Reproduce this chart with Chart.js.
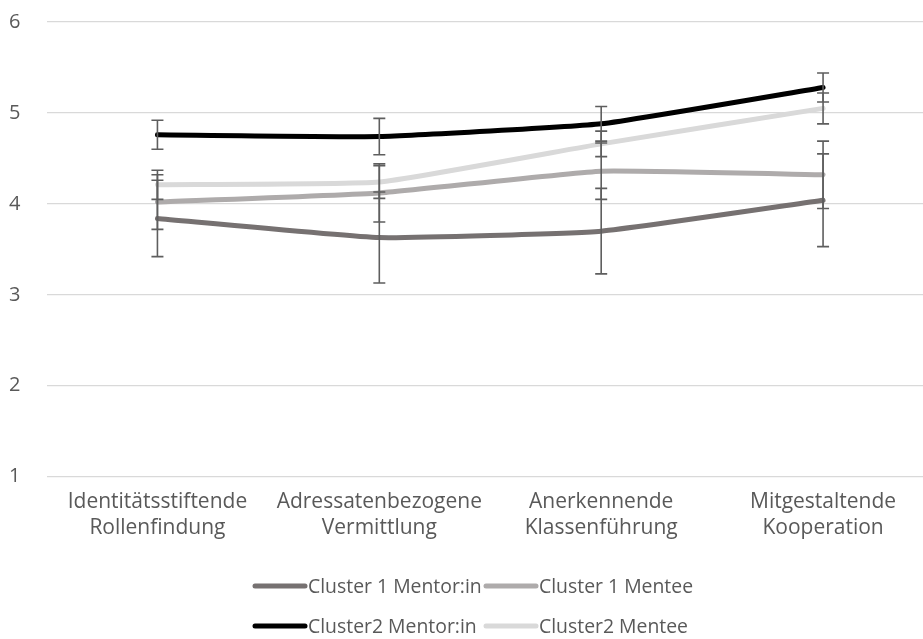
<!DOCTYPE html>
<html><head><meta charset="utf-8">
<script src="https://cdn.jsdelivr.net/npm/chart.js@4"></script>
<style>
html,body{margin:0;padding:0;background:#fff;overflow:hidden;}
#wrap{position:relative;width:934px;height:639px;}
</style></head><body>
<div id="wrap"><canvas id="c"></canvas></div>
<script>
const categories = [
  ['Identitätsstiftende','Rollenfindung'],
  ['Adressatenbezogene','Vermittlung'],
  ['Anerkennende','Klassenführung'],
  ['Mitgestaltende','Kooperation']
];
const seriesNames = ['Cluster 1 Mentor:in','Cluster 1 Mentee','Cluster2 Mentor:in','Cluster2 Mentee'];
const cluster1Mentor = [3.84, 3.63, 3.70, 4.04];
const cluster1Mentee = [4.02, 4.12, 4.36, 4.32];
const cluster2Mentor = [4.76, 4.74, 4.88, 5.28];
const cluster2Mentee = [4.21, 4.24, 4.66, 5.05];
const cluster1MentorErr = [0.42, 0.50, 0.47, 0.51];
const cluster1MenteeErr = [0.30, 0.32, 0.31, 0.37];
const cluster2MentorErr = [0.16, 0.20, 0.19, 0.16];
const cluster2MenteeErr = [0.16, 0.18, 0.14, 0.17];
const yTicks = [1, 2, 3, 4, 5, 6];

const colors = ['#767171', '#AEABAB', '#000000', '#D9D9D9'];
const values = [cluster1Mentor, cluster1Mentee, cluster2Mentor, cluster2Mentee];
const errors = [cluster1MentorErr, cluster1MenteeErr, cluster2MentorErr, cluster2MenteeErr];
const FONT = '"Open Sans", sans-serif';
const TEXT = '#595959';

const errorBars = {
  id: 'errorBars',
  afterDatasetsDraw(chart) {
    const ctx = chart.ctx, y = chart.scales.y;
    ctx.save();
    ctx.strokeStyle = '#5E5E5E';
    ctx.lineWidth = 1.6;
    chart.data.datasets.forEach((ds, i) => {
      const meta = chart.getDatasetMeta(i);
      ds.errors.forEach((e, j) => {
        const x = meta.data[j].x;
        const y1 = y.getPixelForValue(ds.data[j] + e);
        const y2 = y.getPixelForValue(ds.data[j] - e);
        ctx.beginPath();
        ctx.moveTo(x, y1); ctx.lineTo(x, y2);
        ctx.moveTo(x - 6, y1); ctx.lineTo(x + 6, y1);
        ctx.moveTo(x - 6, y2); ctx.lineTo(x + 6, y2);
        ctx.stroke();
      });
    });
    ctx.restore();
  }
};

const gridLegend = {
  id: 'gridLegend',
  afterDraw(chart) {
    const ctx = chart.ctx;
    const left = 253, colW = 231, rowH = 40, top = 586, sample = 54;
    ctx.save();
    ctx.font = '19.4px ' + FONT;
    ctx.fillStyle = TEXT;
    ctx.textBaseline = 'middle';
    chart.data.datasets.forEach((ds, i) => {
      const cx = left + (i % 2) * colW;
      const cy = top + Math.floor(i / 2) * rowH;
      ctx.strokeStyle = ds.borderColor;
      ctx.lineWidth = 5;
      ctx.lineCap = 'round';
      ctx.beginPath();
      ctx.moveTo(cx + 2, cy); ctx.lineTo(cx + sample - 2, cy);
      ctx.stroke();
      ctx.fillText(ds.label, cx + sample + 1, cy + 1);
    });
    ctx.restore();
  }
};

new Chart(document.getElementById('c'), {
  type: 'line',
  data: {
    labels: categories,
    datasets: values.map((v, i) => ({
      label: seriesNames[i],
      data: v,
      errors: errors[i],
      borderColor: colors[i],
      backgroundColor: colors[i],
      borderWidth: 5,
      borderCapStyle: 'round',
      borderJoinStyle: 'round',
      pointRadius: 0,
      pointHoverRadius: 0,
      tension: 0.12,
      order: 4 - i
    }))
  },
  options: {
    responsive: true,
    maintainAspectRatio: false,
    animation: false,
    layout: { padding: { top: 22, bottom: 99.3, left: 0, right: 0 } },
    plugins: { legend: { display: false }, tooltip: { enabled: false } },
    scales: {
      x: {
        offset: true,
        afterFit(s) { s.height = 63; s.paddingLeft = 0; s.paddingRight = 0; s.paddingTop = 0; s.paddingBottom = 0; },
        grid: { display: false, drawTicks: false },
        border: { display: false },
        ticks: { color: TEXT, font: { family: FONT, size: 21, lineHeight: 1.26 }, padding: 12, maxRotation: 0, autoSkip: false }
      },
      y: {
        min: 1, max: 6,
        afterBuildTicks(s) { s.ticks = yTicks.map(v => ({ value: v })); },
        afterFit(s) { s.width = 46.5; s.paddingTop = 0; s.paddingBottom = 0; s.paddingLeft = 0; s.paddingRight = 0; },
        grid: { color: '#D9D9D9', lineWidth: 1.3, drawTicks: false },
        border: { display: false },
        ticks: { color: TEXT, font: { family: FONT, size: 20 }, padding: 26 }
      }
    }
  },
  plugins: [errorBars, gridLegend]
});
</script>
</body></html>
